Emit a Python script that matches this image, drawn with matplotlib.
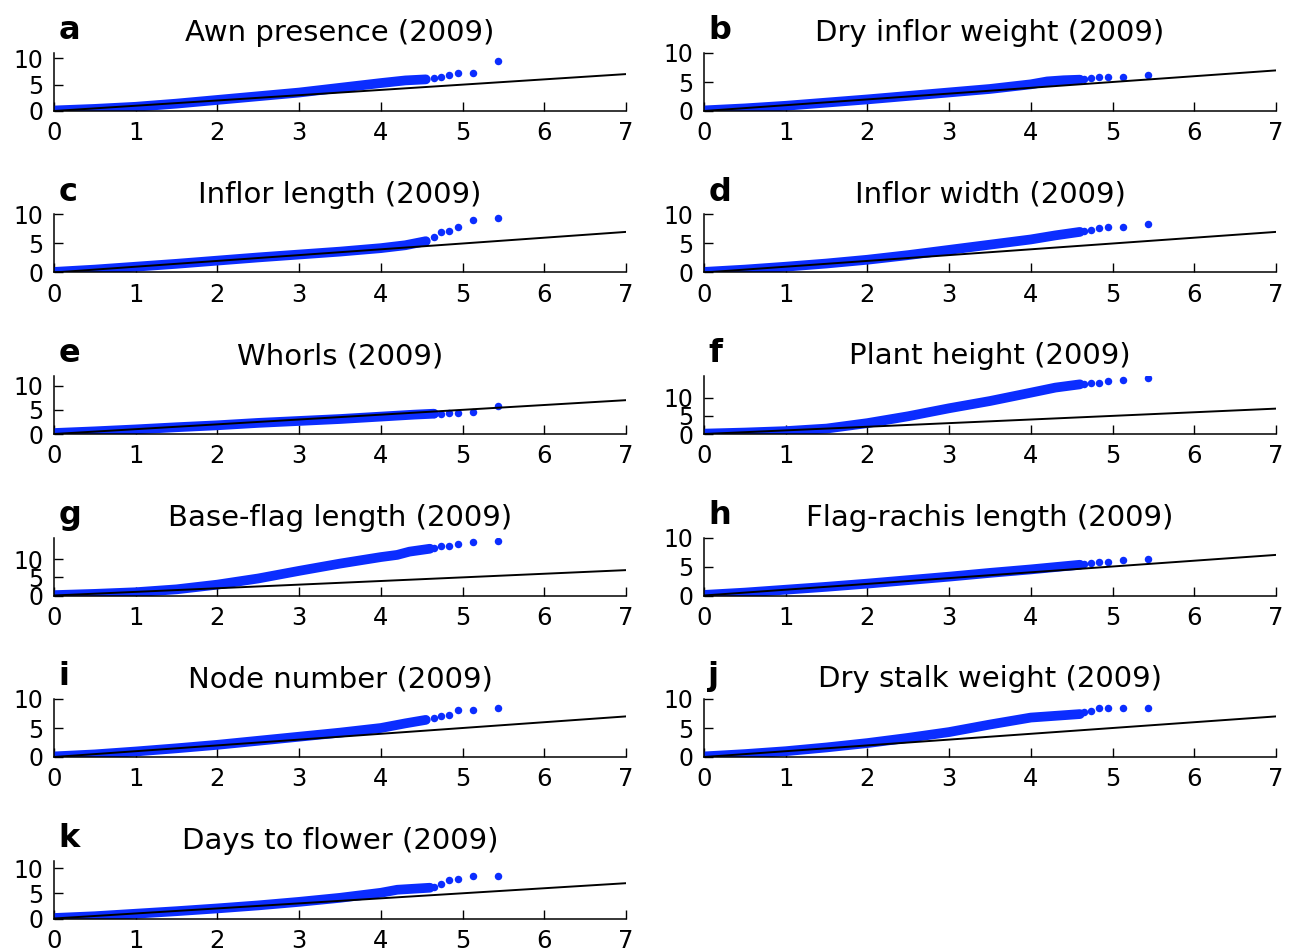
import matplotlib
matplotlib.use('Agg')
import matplotlib.pyplot as plt

# ---------------- data ----------------
titles = ["Awn presence (2009)", "Dry inflor weight (2009)", "Inflor length (2009)",
          "Inflor width (2009)", "Whorls (2009)", "Plant height (2009)",
          "Base-flag length (2009)", "Flag-rachis length (2009)", "Node number (2009)",
          "Dry stalk weight (2009)", "Days to flower (2009)"]
letters = ["a", "b", "c", "d", "e", "f", "g", "h", "i", "j", "k"]

x_ticks = [0, 1, 2, 3, 4, 5, 6, 7]
y_ticks = [0, 5, 10]
null_line = [0, 7]           # expected = observed reference line
y_tops = [11, 10, 10, 10, 12, 16, 16, 10, 10, 10, 11.5]

# expected -log10(p) of the most extreme (isolated) points
tail_x = [5.43, 5.13, 4.95, 4.83, 4.73, 4.65]

# dense body of each QQ curve (expected, observed)
a_x = [0, 0.5, 1, 1.5, 2, 2.5, 3, 3.5, 4, 4.3, 4.55]
a_y = [0.1, 0.4, 0.8, 1.4, 2.1, 2.8, 3.5, 4.4, 5.3, 5.8, 6.0]
a_tail = [9.5, 7.3, 7.2, 6.8, 6.5, 6.2]

b_x = [0, 0.5, 1, 1.5, 2, 2.5, 3, 3.5, 4, 4.2, 4.4, 4.6]
b_y = [0.1, 0.45, 0.9, 1.45, 2.0, 2.6, 3.2, 3.8, 4.6, 5.1, 5.3, 5.4]
b_tail = [6.2, 5.8, 5.8, 5.8, 5.7, 5.5]

c_x = [0, 0.5, 1, 1.5, 2, 2.5, 3, 3.5, 4, 4.3, 4.55]
c_y = [0.1, 0.5, 1.0, 1.5, 2.05, 2.6, 3.1, 3.6, 4.2, 4.7, 5.4]
c_tail = [9.4, 9.1, 7.8, 7.2, 7.0, 6.2]

d_x = [0, 0.5, 1, 1.5, 2, 2.5, 3, 3.5, 4, 4.3, 4.6]
d_y = [0.1, 0.5, 1.0, 1.55, 2.2, 3.0, 3.9, 4.8, 5.7, 6.4, 7.0]
d_tail = [8.3, 7.8, 7.8, 7.6, 7.4, 7.2]

e_x = [0, 0.5, 1, 1.5, 2, 2.5, 3, 3.5, 4, 4.4, 4.65]
e_y = [0.2, 0.55, 0.95, 1.4, 1.8, 2.3, 2.7, 3.1, 3.6, 4.0, 4.2]
e_tail = [5.8, 4.6, 4.4, 4.4, 4.2, 4.2]

f_x = [0, 0.5, 1, 1.5, 2, 2.5, 3, 3.5, 4, 4.3, 4.6]
f_y = [0.1, 0.4, 0.8, 1.5, 3.0, 4.9, 7.1, 9.1, 11.4, 12.8, 13.7]
f_tail = [15.4, 14.8, 14.5, 14.1, 14.0, 13.8]

g_x = [0, 0.5, 1, 1.5, 2, 2.5, 3, 3.5, 4, 4.2, 4.35, 4.6]
g_y = [0.1, 0.45, 0.9, 1.7, 3.0, 4.7, 6.8, 8.8, 10.6, 11.2, 12.1, 12.9]
g_tail = [15.1, 14.7, 14.3, 13.6, 13.6, 13.1]

h_x = [0, 0.5, 1, 1.5, 2, 2.5, 3, 3.5, 4, 4.3, 4.6]
h_y = [0.1, 0.5, 1.0, 1.5, 2.05, 2.65, 3.25, 3.9, 4.5, 4.9, 5.3]
h_tail = [6.3, 6.2, 5.8, 5.7, 5.6, 5.5]

i_x = [0, 0.5, 1, 1.5, 2, 2.5, 3, 3.5, 4, 4.3, 4.55]
i_y = [0.1, 0.45, 0.95, 1.5, 2.1, 2.8, 3.5, 4.2, 5.0, 5.8, 6.4]
i_tail = [8.4, 8.1, 8.1, 7.2, 7.1, 6.8]

j_x = [0, 0.5, 1, 1.5, 2, 2.5, 3, 3.5, 4, 4.3, 4.6]
j_y = [0.1, 0.5, 1.0, 1.65, 2.4, 3.3, 4.3, 5.6, 6.8, 7.1, 7.4]
j_tail = [8.5, 8.5, 8.4, 8.4, 7.9, 7.7]

k_x = [0, 0.5, 1, 1.5, 2, 2.5, 3, 3.5, 4, 4.2, 4.6]
k_y = [0.1, 0.45, 0.95, 1.45, 2.0, 2.6, 3.3, 4.1, 5.1, 5.7, 6.1]
k_tail = [8.4, 8.4, 7.9, 7.6, 6.8, 6.3]

bodies_x = [a_x, b_x, c_x, d_x, e_x, f_x, g_x, h_x, i_x, j_x, k_x]
bodies_y = [a_y, b_y, c_y, d_y, e_y, f_y, g_y, h_y, i_y, j_y, k_y]
tails_y = [a_tail, b_tail, c_tail, d_tail, e_tail, f_tail, g_tail, h_tail,
           i_tail, j_tail, k_tail]

# ---------------- figure ----------------
W, H = 1289, 949
fig = plt.figure(figsize=(W / 100, H / 100), dpi=100)
plt.rcParams['font.family'] = 'DejaVu Sans'

BLUE = '#0b2dff'
col_left = [54, 704]
ax_w = 572
ax_h = 58
row_top0 = 53
row_pitch = 161.5

for idx in range(11):
    r, c = divmod(idx, 2)
    left = col_left[c]
    top = row_top0 + r * row_pitch
    ax = fig.add_axes([left / W, 1 - (top + ax_h) / H, ax_w / W, ax_h / H])

    ax.plot(bodies_x[idx], bodies_y[idx], '-', color=BLUE, lw=7,
            solid_capstyle='round', solid_joinstyle='round', zorder=2)
    ax.plot(tail_x, tails_y[idx], 'o', color=BLUE, ms=5.4, mec='none', zorder=2)
    ax.plot(null_line, null_line, '-', color='black', lw=1.4, zorder=3)

    ax.set_xlim(0, 7)
    ax.set_ylim(0, y_tops[idx])
    ax.set_xticks(x_ticks)
    ax.set_yticks(y_ticks)
    ax.spines['top'].set_visible(False)
    ax.spines['right'].set_visible(False)
    for s in ('left', 'bottom'):
        ax.spines[s].set_linewidth(1.1)
    ax.tick_params(axis='both', direction='in', length=6.5, width=1,
                   top=False, right=False)
    ax.tick_params(axis='x', labelsize=17.5, pad=7.5)
    ax.tick_params(axis='y', labelsize=17, pad=7.5)

    ax.set_title(titles[idx], fontsize=21, pad=8.6)
    ax.annotate(letters[idx], xy=(0, 1), xycoords='axes fraction',
                xytext=(3, 10), textcoords='offset points',
                fontsize=23, fontweight='bold', ha='left', va='baseline')

fig.savefig('out.png', dpi=100)
